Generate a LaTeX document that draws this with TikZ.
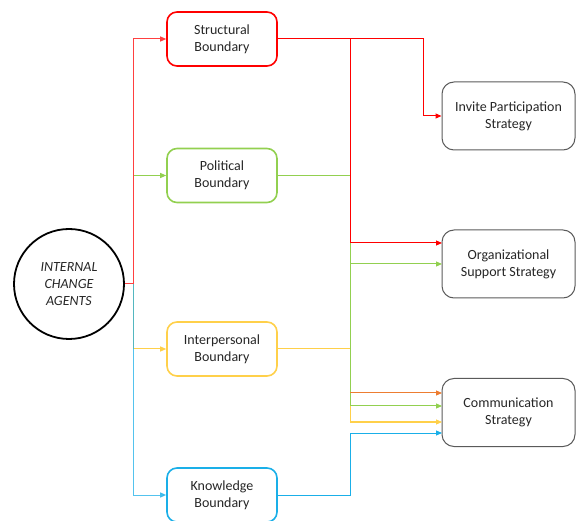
\documentclass[tikz,border=0pt]{standalone}
\usepackage{fontspec}
\setmainfont{Carlito}
\usetikzlibrary{arrows.meta}
\definecolor{cred}{HTML}{FF0000}
\definecolor{cgreen}{HTML}{92D050}
\definecolor{cyellow}{HTML}{FFD04A}
\definecolor{cblue}{HTML}{1AAFE8}
\definecolor{corange}{HTML}{ED7D31}
\definecolor{ctext}{HTML}{262626}
\definecolor{cgray}{HTML}{5A5A5A}
\tikzset{
  bbox/.style={draw, line width=1.6pt, rounded corners=10pt, minimum width=110pt, minimum height=54pt, inner sep=0pt, align=center, text=ctext, font=\fontsize{14}{17}\selectfont},
  sbox/.style={draw=cgray, line width=1pt, rounded corners=12pt, minimum width=133pt, minimum height=68pt, inner sep=0pt, align=center, text=ctext, font=\fontsize{14}{17}\selectfont},
  conn/.style={line width=1pt},
  arr/.style={conn, -{Triangle[length=6pt,width=5pt]}},
}
\begin{document}
\begin{tikzpicture}[x=1pt,y=-1pt]
\useasboundingbox (0,0) rectangle (576,521);
% nodes
\node[circle, draw=black, line width=1.8pt, minimum size=110pt, inner sep=0pt, align=center, text=ctext, font=\fontsize{14}{17}\selectfont\itshape] (ica) at (69,284) {INTERNAL\\CHANGE\\AGENTS};
\node[bbox, draw=cred] (sb) at (222,39) {Structural\\Boundary};
\node[bbox, draw=cgreen] (pb) at (222,175.5) {Political\\Boundary};
\node[bbox, draw=cyellow] (ib) at (222,349) {Interpersonal\\Boundary};
\node[bbox, draw=cblue] (kb) at (222,495) {Knowledge\\Boundary};
\node[sbox] (ip) at (508.5,116) {Invite Participation\\Strategy};
\node[sbox] (os) at (508.5,264) {Organizational\\Support Strategy};
\node[sbox] (cs) at (508.5,412.5) {Communication\\Strategy};
% coordinates
\coordinate (t) at (133,284);
\coordinate (rb) at (423,39);
\coordinate (os1) at (442,243);
\coordinate (os2) at (442,264);
\coordinate (cs1) at (442,393);
\coordinate (cs2) at (442,406);
\coordinate (cs3) at (442,422);
\coordinate (cs4) at (442,433);
\coordinate (bs) at (350,393);
% left side
\draw[arr, cyellow] (t) |- (ib.west);
\draw[arr, cblue, opacity=0.75] (t) |- (kb.west);
\draw[arr, cgreen] (t) |- (pb.west);
\draw[arr, cred!75] (ica.east) -- (t) |- (sb.west);
% right side
\draw[arr, cyellow] (ib.east) -| (350,422) -- (cs3);
\draw[arr, cblue] (kb.east) -| (350,433) -- (cs4);
\draw[arr, cgreen] (pb.east) -| (350,406) -- (cs2);
\draw[arr, cgreen] (350,264) -- (os2);
\draw[arr, corange] (bs) -- (cs1);
\draw[arr, cred] (sb.east) -- (rb) |- (ip.west);
\draw[arr, cred] (350,39) |- (os1);
\end{tikzpicture}
\end{document}
